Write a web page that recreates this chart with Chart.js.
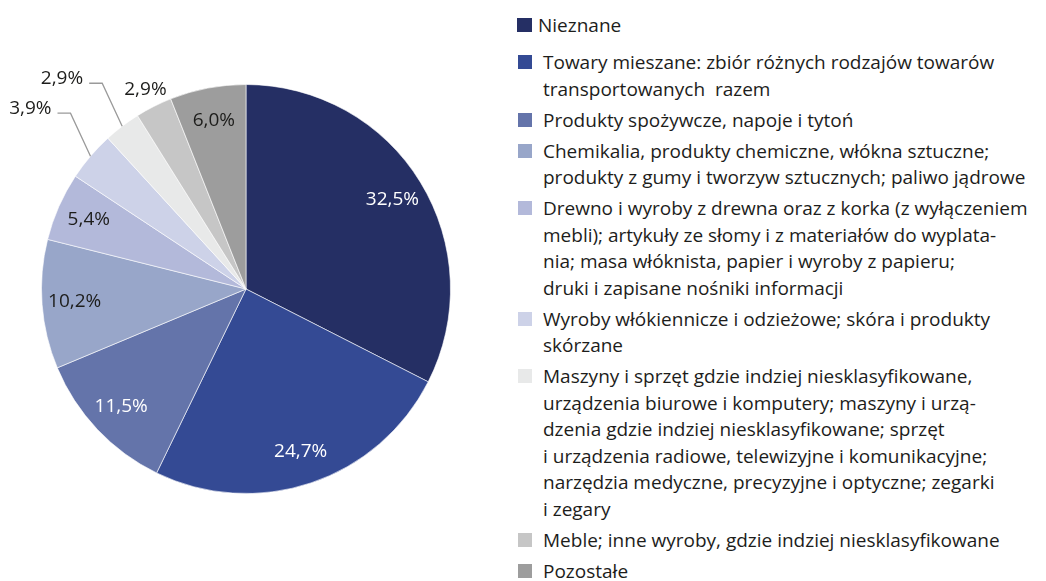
<!DOCTYPE html>
<html lang="pl">
<head>
<meta charset="utf-8">
<script src="https://cdn.jsdelivr.net/npm/chart.js@4/dist/chart.umd.min.js"></script>
<style>
  html, body { margin: 0; padding: 0; background: #fff; }
  body { width: 1046px; height: 581px; position: relative; overflow: hidden; font-family: "Open Sans", sans-serif; color: #1d1d1b; }
  #pieBox { position: absolute; left: 0; top: 0; width: 492px; height: 578px; }
  #legend { position: absolute; left: 517px; top: 12px; margin: 0; padding: 0; list-style: none; font-size: 19px; line-height: 26.5px; }
  #legend li { position: relative; padding-left: 26px; margin-bottom: 4.5px; white-space: pre; }
  #legend li:first-child { margin-bottom: 10.5px; padding-left: 21px; }
  #legend li span { position: absolute; left: 1px; top: 6px; width: 14px; height: 14px; }
  #legend li:first-child span { left: 0; width: 15px; }
</style>
</head>
<body>
<div id="pieBox"><canvas id="pieChart"></canvas></div>
<ul id="legend"></ul>
<script>
// Struktura ładunków wg grup towarowych (%)
const categories = [
    'Nieznane',
    'Towary mieszane: zbiór różnych rodzajów towarów\ntransportowanych  razem',
    'Produkty spożywcze, napoje i tytoń',
    'Chemikalia, produkty chemiczne, włókna sztuczne;\nprodukty z gumy i tworzyw sztucznych; paliwo jądrowe',
    'Drewno i wyroby z drewna oraz z korka (z wyłączeniem\nmebli); artykuły ze słomy i z materiałów do wyplata-\nnia; masa włóknista, papier i wyroby z papieru;\ndruki i zapisane nośniki informacji',
    'Wyroby włókiennicze i odzieżowe; skóra i produkty\nskórzane',
    'Maszyny i sprzęt gdzie indziej niesklasyfikowane,\nurządzenia biurowe i komputery; maszyny i urzą-\ndzenia gdzie indziej niesklasyfikowane; sprzęt\ni urządzenia radiowe, telewizyjne i komunikacyjne;\nnarzędzia medyczne, precyzyjne i optyczne; zegarki\ni zegary',
    'Meble; inne wyroby, gdzie indziej niesklasyfikowane',
    'Pozostałe'
];
const shares = [32.5, 24.7, 11.5, 10.2, 5.4, 3.9, 2.9, 2.9, 6.0];

const colors = ['#252f64', '#344a94', '#6474aa', '#98a6c9', '#b3b9da', '#cdd2e8', '#e8e9e9', '#c6c6c6', '#9d9d9d'];
const labelColors = ['#fff', '#fff', '#fff', '#1d1d1b', '#1d1d1b', '#1d1d1b', '#1d1d1b', '#1d1d1b', '#1d1d1b'];
// in = inside slice, out = just outside, call = with leader line
const labelPlace = ['in', 'in', 'in', 'in', 'in', 'call', 'call', 'out', 'in'];

// legend
const legendEl = document.getElementById('legend');
categories.forEach((c, i) => {
    const li = document.createElement('li');
    const sw = document.createElement('span');
    sw.style.background = colors[i];
    li.appendChild(sw);
    li.appendChild(document.createTextNode(c));
    legendEl.appendChild(li);
});

const fmt = v => v.toFixed(1).replace('.', ',') + '%';

const sliceLabels = {
    id: 'sliceLabels',
    afterDatasetsDraw(chart) {
        const ctx = chart.ctx;
        const meta = chart.getDatasetMeta(0);
        ctx.save();
        ctx.font = '19px "Open Sans", sans-serif';
        meta.data.forEach((arc, i) => {
            const mid = (arc.startAngle + arc.endAngle) / 2;
            const R = arc.outerRadius;
            const txt = fmt(shares[i]);
            ctx.fillStyle = labelColors[i];
            if (labelPlace[i] === 'in' || labelPlace[i] === 'out') {
                const r = labelPlace[i] === 'in' ? R * 0.84 : R * 1.09;
                ctx.textAlign = 'center';
                ctx.textBaseline = 'middle';
                ctx.fillText(txt, arc.x + r * Math.cos(mid), arc.y + r * Math.sin(mid));
            } else {
                const ex = arc.x + R * Math.cos(mid);
                const ey = arc.y + R * Math.sin(mid);
                const kx = ex - 20, ky = ey - 43;
                ctx.strokeStyle = '#9a9a9a';
                ctx.lineWidth = 1.3;
                ctx.beginPath();
                ctx.moveTo(ex, ey);
                ctx.lineTo(kx, ky);
                ctx.lineTo(kx - 13, ky);
                ctx.stroke();
                ctx.textAlign = 'right';
                ctx.textBaseline = 'alphabetic';
                ctx.fillText(txt, kx - 19, ky + 1);
            }
        });
        ctx.restore();
    }
};

const pieChart = new Chart(document.getElementById('pieChart'), {
    type: 'pie',
    data: {
        labels: categories,
        datasets: [{
            data: shares,
            backgroundColor: colors,
            borderColor: 'rgba(255,255,255,0.6)',
            borderWidth: 1
        }]
    },
    options: {
        responsive: true,
        maintainAspectRatio: false,
        animation: false,
        layout: { padding: { left: 41, right: 41, top: 84, bottom: 84 } },
        plugins: {
            legend: { display: false },
            tooltip: { enabled: false }
        }
    },
    plugins: [sliceLabels]
});
</script>
</body>
</html>
